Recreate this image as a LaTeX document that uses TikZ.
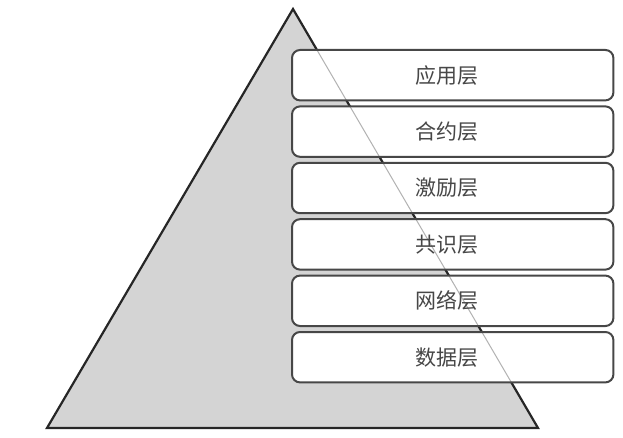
\documentclass[tikz,border=0pt]{standalone}
\usepackage{fontspec}
\newfontfamily\cjk{Noto Sans CJK SC}
\begin{document}
\begin{tikzpicture}[x=1pt,y=-1pt,
  tri/.style={fill=black!17,draw=black!85,line width=2.2pt,line join=miter},
  layer/.style={rounded corners=8pt,fill=white,
    minimum width=321pt,minimum height=50pt,inner sep=0pt,anchor=north west},
  layerborder/.style={draw=black!72,line width=2pt,rounded corners=8pt},
  ghost/.style={draw=black!30,line width=1pt},
  lbl/.style={text=black!72,font=\cjk\fontsize{21}{23}\selectfont}]
\useasboundingbox (0,0) rectangle (623,438);
\coordinate (apex) at (293,9);
\coordinate (bl) at (47,428);
\coordinate (br) at (538,428);
\draw[tri] (apex) -- (bl) -- (br) -- cycle;
\foreach \i in {0,...,5}{
  \node[layer] (b\i) at (292,{50+56.4*\i}) {};
}
\begin{scope}
  \clip (b0.north west) rectangle (b0.south east)
        (b1.north west) rectangle (b1.south east)
        (b2.north west) rectangle (b2.south east)
        (b3.north west) rectangle (b3.south east)
        (b4.north west) rectangle (b4.south east)
        (b5.north west) rectangle (b5.south east);
  \draw[ghost] (apex) -- (br);
\end{scope}
\foreach \i/\t in {0/应用层,1/合约层,2/激励层,3/共识层,4/网络层,5/数据层}{
  \draw[layerborder] (b\i.north west) rectangle (b\i.south east);
  \node[lbl] (t\i) at ([xshift=-6pt]b\i.center) {\t};
}
\end{tikzpicture}
\end{document}
